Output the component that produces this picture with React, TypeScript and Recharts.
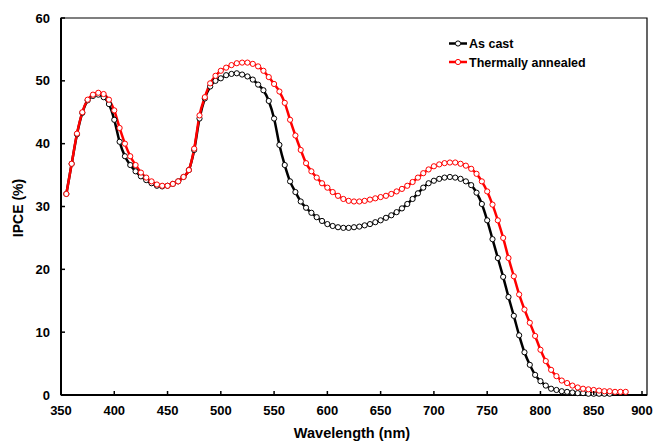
import React from 'react';
import { LineChart, Line, XAxis, YAxis, ReferenceArea } from 'recharts';

const wavelengths = [
  355, 360, 365, 370, 375, 380, 385, 390, 395, 400,
  405, 410, 415, 420, 425, 430, 435, 440, 445, 450,
  455, 460, 465, 470, 475, 480, 485, 490, 495, 500,
  505, 510, 515, 520, 525, 530, 535, 540, 545, 550,
  555, 560, 565, 570, 575, 580, 585, 590, 595, 600,
  605, 610, 615, 620, 625, 630, 635, 640, 645, 650,
  655, 660, 665, 670, 675, 680, 685, 690, 695, 700,
  705, 710, 715, 720, 725, 730, 735, 740, 745, 750,
  755, 760, 765, 770, 775, 780, 785, 790, 795, 800,
  805, 810, 815, 820, 825, 830, 835, 840, 845, 850,
  855, 860, 865, 870, 875, 880,
];

const asCast = [
  32.0, 36.8, 41.5, 44.9, 46.9, 47.6, 47.8, 47.4, 46.3, 43.8,
  40.3, 38.0, 36.6, 35.6, 34.8, 34.2, 33.7, 33.3, 33.2, 33.3,
  33.6, 34.0, 34.7, 35.8, 39.0, 44.0, 47.2, 49.1, 50.0, 50.4,
  50.9, 51.1, 51.2, 51.0, 50.7, 50.2, 49.4, 48.5, 46.8, 44.0,
  39.8, 36.6, 34.0, 32.3, 30.8, 29.8, 29.0, 28.3, 27.7, 27.2,
  26.9, 26.7, 26.6, 26.6, 26.7, 26.8, 27.0, 27.2, 27.5, 27.8,
  28.2, 28.6, 29.1, 29.7, 30.4, 31.2, 32.1, 33.0, 33.7, 34.1,
  34.4, 34.6, 34.7, 34.6, 34.4, 34.0, 33.4, 32.2, 30.4, 27.8,
  24.8, 21.8, 18.8, 15.6, 12.6, 9.5, 6.8, 4.8, 3.2, 2.2,
  1.5, 1.0, 0.8, 0.6, 0.5, 0.4, 0.3, 0.3, 0.2, 0.2,
  0.2, 0.2, 0.2,
];

const thermallyAnnealed = [
  32.0, 36.8, 41.6, 45.0, 47.0, 47.8, 48.1, 47.9, 47.0, 45.3,
  42.5, 40.0, 38.0, 36.6, 35.4, 34.6, 34.0, 33.5, 33.3, 33.3,
  33.6, 34.0, 34.7, 35.8, 39.2, 44.5, 47.4, 49.6, 50.8, 51.6,
  52.1, 52.5, 52.8, 52.9, 52.9, 52.7, 52.3, 51.6, 50.6, 49.5,
  48.3, 46.5, 43.8, 41.3, 39.0, 36.9, 35.6, 34.6, 33.7, 33.0,
  32.3, 31.7, 31.2, 30.9, 30.8, 30.8, 30.9, 31.1, 31.3, 31.5,
  31.7, 32.0, 32.4, 32.8, 33.3, 33.9, 34.6, 35.3, 35.9, 36.4,
  36.7, 36.9, 37.0, 37.0, 36.8, 36.5, 36.0, 35.2, 34.0, 32.4,
  30.3, 27.8, 25.0, 21.8, 18.9, 16.0, 13.6, 11.5, 9.4, 7.2,
  5.4, 4.0, 3.0, 2.3, 1.9, 1.5, 1.2, 1.0, 0.9, 0.8,
  0.7, 0.6, 0.6, 0.5, 0.5, 0.5,
];

const xTicks = [350, 400, 450, 500, 550, 600, 650, 700, 750, 800, 850, 900];
const yTicks = [0, 10, 20, 30, 40, 50, 60];
const seriesNames = ['As cast', 'Thermally annealed'];
const seriesColors = ['#000000', '#ff0000'];

const asCastData = asCast.map((v, i) => ({ nm: wavelengths[i], v }));
const annealedData = thermallyAnnealed.map((v, i) => ({ nm: wavelengths[i], v }));

const FONT = '"Liberation Sans", Arial, sans-serif';
const PLOT_BOTTOM = 395;
const PLOT_LEFT = 61;

const XTick = (props: any) => {
  const { x, payload } = props;
  return (
    <g>
      <line x1={x} y1={PLOT_BOTTOM} x2={x} y2={PLOT_BOTTOM - 4} stroke="#000" strokeWidth={1.5} />
      <text x={x} y={PLOT_BOTTOM + 20} textAnchor="middle" fontFamily={FONT} fontWeight="bold" fontSize={13} fill="#000">
        {payload.value}
      </text>
    </g>
  );
};

const YTick = (props: any) => {
  const { y, payload } = props;
  return (
    <g>
      <line x1={PLOT_LEFT} y1={y} x2={PLOT_LEFT + 4} y2={y} stroke="#000" strokeWidth={1.5} />
      <text x={50} y={y + 4.5} textAnchor="end" fontFamily={FONT} fontWeight="bold" fontSize={13} fill="#000">
        {payload.value}
      </text>
    </g>
  );
};

const dotFor = (color: string) => ({ r: 2.6, fill: '#ffffff', stroke: color, strokeWidth: 1 });

export default function App() {
  return (
    <div style={{ position: 'absolute', left: 0, top: 0, width: 654, height: 442, background: '#fff' }}>
      <LineChart width={654} height={442} margin={{ top: 18, right: 7, bottom: 0, left: 0 }}>
        <XAxis
          dataKey="nm"
          type="number"
          domain={[350, 900]}
          ticks={xTicks}
          allowDuplicatedCategory={false}
          height={47}
          axisLine={{ stroke: '#000', strokeWidth: 2 }}
          tickLine={false}
          tick={<XTick />}
          label={() => (
            <text x={352} y={438} textAnchor="middle" fontFamily={FONT} fontWeight="bold" fontSize={14.5} fill="#000">
              Wavelength (nm)
            </text>
          )}
        />
        <YAxis
          type="number"
          domain={[0, 60]}
          ticks={yTicks}
          width={61}
          axisLine={{ stroke: '#000', strokeWidth: 2 }}
          tickLine={false}
          tick={<YTick />}
          label={() => (
            <text x={23} y={208} transform="rotate(-90 23 208)" textAnchor="middle" fontFamily={FONT} fontWeight="bold" fontSize={14} fill="#000">
              IPCE (%)
            </text>
          )}
        />
        <ReferenceArea x1={350} x2={900} y1={0} y2={60} fill="none" stroke="#000" strokeWidth={1.2} ifOverflow="visible" />
        <Line
          data={asCastData}
          dataKey="v"
          name={seriesNames[0]}
          type="monotone"
          stroke={seriesColors[0]}
          strokeWidth={2.5}
          dot={dotFor(seriesColors[0])}
          isAnimationActive={false}
        />
        <Line
          data={annealedData}
          dataKey="v"
          name={seriesNames[1]}
          type="monotone"
          stroke={seriesColors[1]}
          strokeWidth={2.5}
          dot={dotFor(seriesColors[1])}
          isAnimationActive={false}
        />
      </LineChart>
      <svg width={654} height={442} style={{ position: 'absolute', left: 0, top: 0, pointerEvents: 'none' }}>
        {seriesNames.map((name, i) => {
          const y = 43.5 + i * 18.5;
          return (
            <g key={name}>
              <line x1={449} y1={y} x2={467} y2={y} stroke={seriesColors[i]} strokeWidth={2.5} />
              <circle cx={458} cy={y} r={2.6} fill="#fff" stroke={seriesColors[i]} strokeWidth={1} />
              <text x={469} y={y + 4.5} fontFamily={FONT} fontWeight="bold" fontSize={12.5} fill="#000">
                {name}
              </text>
            </g>
          );
        })}
      </svg>
    </div>
  );
}
